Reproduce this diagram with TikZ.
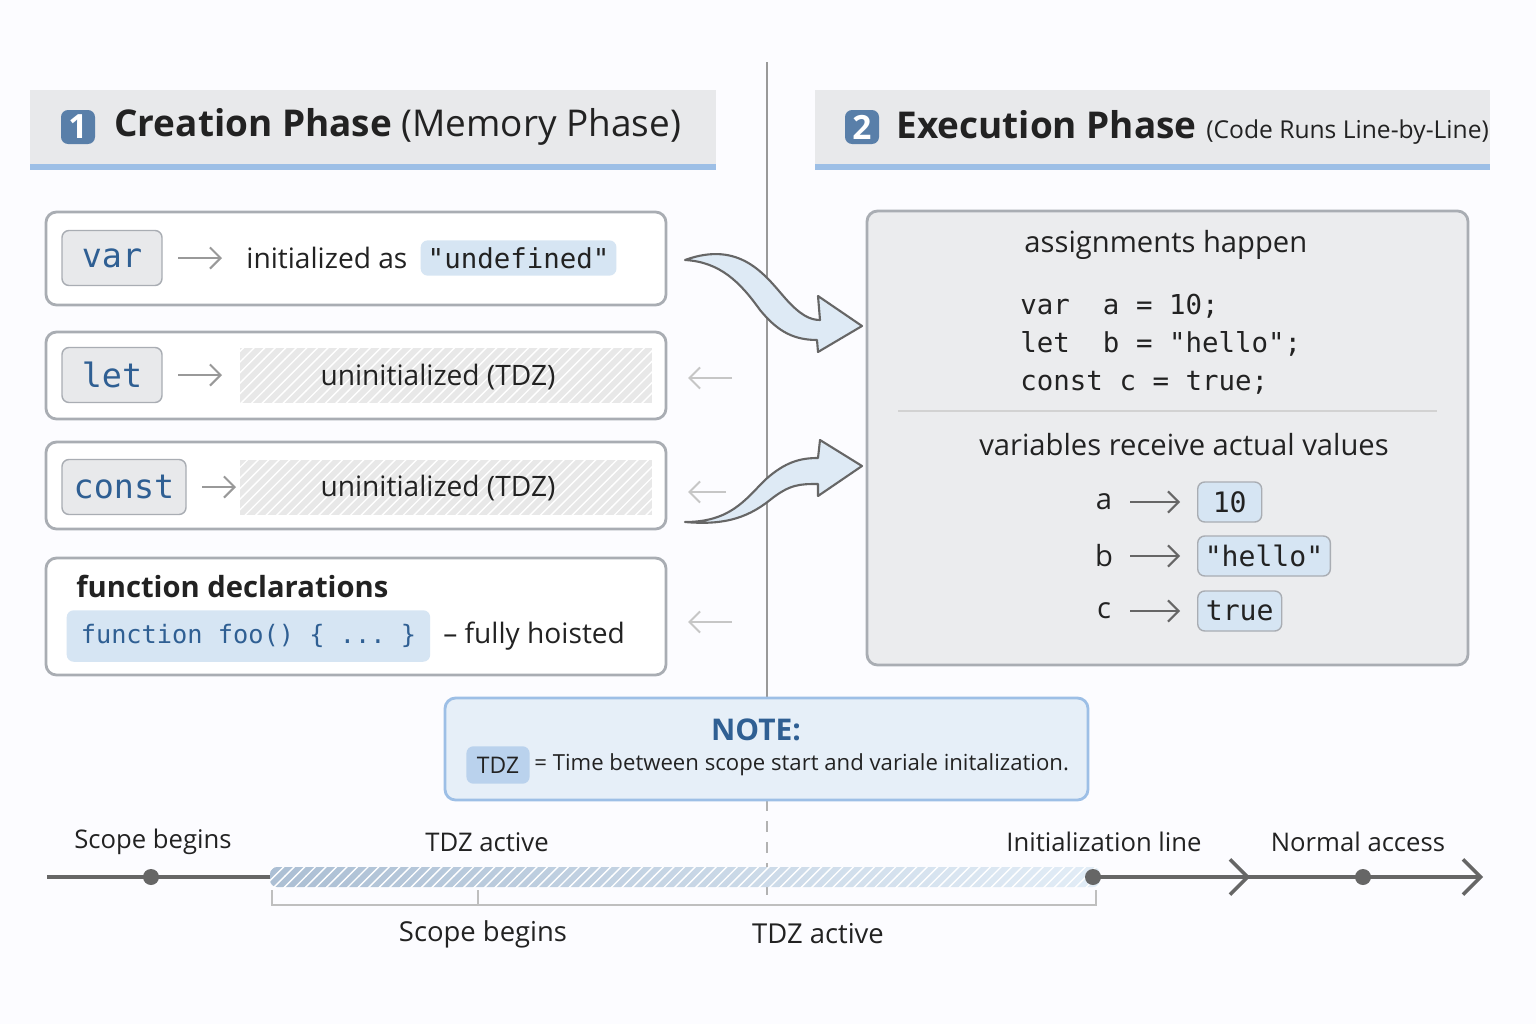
\documentclass[tikz,border=0pt]{standalone}
\usepackage{fontspec}
\setmainfont{Open Sans}
\setmonofont{DejaVu Sans Mono}
\usetikzlibrary{patterns,arrows.meta}
\definecolor{bd}{HTML}{A9ADB3}
\definecolor{hl}{HTML}{D6E5F3}
\definecolor{bl}{HTML}{9DBFE6}
\definecolor{kw}{HTML}{2F5F93}
\definecolor{tx}{HTML}{222222}
\definecolor{hd}{HTML}{E8E9EB}
\tikzset{
 card/.style={draw=bd,line width=0.8pt,rounded corners=3pt,fill=white},
 kwbox/.style={draw=bd,rounded corners=2pt,fill=hd,font=\ttfamily\fontsize{9.5}{12}\selectfont,text=kw,minimum height=55*0.01cm},
 hlb/.style={fill=hl,rounded corners=2pt,inner sep=2pt,font=\ttfamily\fontsize{7.8}{10}\selectfont,text=tx},
 txt/.style={font=\fontsize{8}{10}\selectfont,text=tx},
 sarr/.style={-{Straight Barb[length=3pt]},draw=gray!80,line width=0.6pt},
 farr/.style={-{Straight Barb[length=3pt]},draw=gray!45,line width=0.6pt},
 big/.style={draw=gray!80!black,fill=hl!80,line width=0.6pt,line join=round},
}
\begin{document}
\begin{tikzpicture}[x=0.01cm,y=-0.01cm]
\useasboundingbox (0,0) rectangle (1536,1024);
\fill[white!97!blue!40] (0,0) rectangle (1536,1024);
% divider
\draw[gray!80,line width=0.7pt] (767,62) -- (767,698);
\draw[gray!60,dashed,line width=0.6pt] (767,800) -- (767,905);
% headers
\fill[hd] (30,90) rectangle (716,168);
\fill[bl] (30,164) rectangle (716,170);
\node[fill=kw!80,text=white,rounded corners=2pt,minimum size=34*0.01cm,inner sep=0pt,font=\fontsize{9.5}{12}\selectfont\bfseries] (n1) at (78,127) {1};
\node[anchor=west,font=\fontsize{10.5}{13}\selectfont,text=tx] (h1) at (102,127) {\textbf{Creation Phase} (Memory Phase)};
\fill[hd] (815,90) rectangle (1490,168);
\fill[bl] (815,164) rectangle (1490,170);
\node[fill=kw!80,text=white,rounded corners=2pt,minimum size=34*0.01cm,inner sep=0pt,font=\fontsize{9.5}{12}\selectfont\bfseries] (n2) at (862,127) {2};
\node[anchor=west,font=\fontsize{10.5}{13}\selectfont,text=tx] (h2) at (884,127) {\textbf{Execution Phase} {\fontsize{7}{9}\selectfont(Code Runs Line-by-Line)}};
% var
\draw[card] (46,212) rectangle (666,305);
\node[kwbox,minimum width=100*0.01cm] (kvar) at (112,258) {var};
\node[txt,anchor=west] (ivar) at (234,258) {initialized as};
\node[hlb,anchor=west] (uvar) at (420,258) {"undefined"};
\draw[sarr] (178,258) -- (222,258);
% let
\draw[card] (46,332) rectangle (666,419);
\node[kwbox,minimum width=100*0.01cm] (klet) at (112,375) {let};
\fill[gray!18] (240,348) rectangle (652,403);
\fill[pattern=north east lines,pattern color=white] (240,348) rectangle (652,403);
\node[txt] (ulet) at (438,377) {uninitialized (TDZ)};
\draw[sarr] (178,375) -- (222,375);
% const
\draw[card] (46,442) rectangle (666,529);
\node[kwbox,minimum width=124*0.01cm] (kconst) at (124,487) {const};
\fill[gray!18] (240,460) rectangle (652,515);
\fill[pattern=north east lines,pattern color=white] (240,460) rectangle (652,515);
\node[txt] (uconst) at (438,488) {uninitialized (TDZ)};
\draw[sarr] (202,487) -- (236,487);
% function
\draw[card] (46,558) rectangle (666,675);
\node[txt,anchor=west,font=\fontsize{8.3}{11}\selectfont\bfseries] (fd) at (64,586) {function declarations};
\node[hlb,anchor=west,text=kw,inner sep=4pt,font=\ttfamily\fontsize{7.2}{9}\selectfont] (fc) at (66,636) {function foo() \{ ... \}};
\node[txt,anchor=west] (fh) at (fc.east) {– fully hoisted};
% faint arrows
\draw[farr] (732,378) -- (688,378);
\draw[farr] (726,492) -- (688,492);
\draw[farr] (732,622) -- (688,622);
% big arrows
\draw[big] (685,260) .. controls (740,240) and (765,275) .. (785,298)
  .. controls (800,315) and (810,320) .. (820,320) -- (818,296) -- (862,326) -- (818,352) -- (817,340)
  .. controls (790,340) and (775,328) .. (760,310) .. controls (740,282) and (720,262) .. (685,260) -- cycle;
\draw[big] (685,522) .. controls (730,522) and (745,500) .. (765,480)
  .. controls (785,462) and (800,458) .. (818,458) -- (820,440) -- (862,466) -- (818,496) -- (818,484)
  .. controls (800,484) and (790,484) .. (770,500) .. controls (745,520) and (720,525) .. (685,522) -- cycle;
% right panel
\draw[card,fill=hd!85] (867,211) rectangle (1468,665);
\node[txt,anchor=west,font=\fontsize{8.3}{11}\selectfont] (ah) at (1012,245) {assignments happen};
\node[anchor=north west,font=\ttfamily\fontsize{7.8}{10.8}\selectfont,text=tx,align=left] (code) at (1008,282) {var~~a = 10;\\let~~b = "hello";\\const c = true;};
\draw[gray!35,line width=0.6pt] (898,411) -- (1437,411);
\node[txt,font=\fontsize{8.3}{11}\selectfont] (vr) at (1184,445) {variables receive actual values};
\foreach \n/\v/\y/\w in {a/10/502/64,b/"hello"/556/132,c/true/611/84}{
 \node[txt,font=\fontsize{8.3}{11}\selectfont] (l\n) at (1104,\y) {\n};
 \node[hlb,draw=bd,anchor=west,minimum width=\w*0.01cm,minimum height=40*0.01cm,font=\ttfamily\fontsize{8}{10}\selectfont] (v\n) at (1197,\y) {\v};
 \draw[-{Straight Barb[length=3pt]},gray!80!black,line width=0.6pt] (1130,\y) -- (1180,\y);
}
% note
\draw[draw=bl,line width=0.8pt,rounded corners=3pt,fill=hl!60] (445,698) rectangle (1088,800);
\node[font=\fontsize{8.5}{11}\selectfont\bfseries,text=kw] (note) at (756,730) {NOTE:};
\node[hlb,font=\fontsize{6.5}{8}\selectfont,fill=bl!70,inner sep=3pt] (tdz) at (498,765) {TDZ};
\node[txt,anchor=west,font=\fontsize{6.3}{8}\selectfont] (nt) at (522,765) {= Time between scope start and variale initalization.};
% timeline
\coordinate (t0) at (47,877);
\coordinate (t1) at (1483,877);
\draw[gray!80!black,line width=1pt,-{Straight Barb[length=5pt]}] (t0) -- (t1);
\shade[left color=kw!40,right color=hl!70,rounded corners=2pt] (270,867) rectangle (1100,887);
\fill[pattern=north east lines,pattern color=white] (270,867) rectangle (1100,887);
\draw[gray!80!black,line width=1pt,-{Straight Barb[length=5pt]}] (1100,877) -- (1250,877);
\foreach \x/\nm in {151/d1,1093/d2,1363/d3}{\fill[gray!80!black] (\x,877) circle (8) coordinate (\nm);}
\draw[gray!50,line width=0.7pt] (272,890) -- (272,905) -- (1096,905) -- (1096,890);
\draw[gray!50,line width=0.7pt] (478,890) -- (478,905);
\foreach \x/\t/\nm in {153/Scope begins/ta,487/TDZ active/tb,1104/Initialization line/tc,1358/Normal access/td}{
 \node[txt,font=\fontsize{7.3}{9}\selectfont] (\nm) at (\x,842) {\t};}
\node[txt,font=\fontsize{7.8}{10}\selectfont] (tf) at (483,934) {Scope begins};
\node[txt,font=\fontsize{7.8}{10}\selectfont] (tg) at (818,934) {TDZ active};
\end{tikzpicture}
\end{document}
